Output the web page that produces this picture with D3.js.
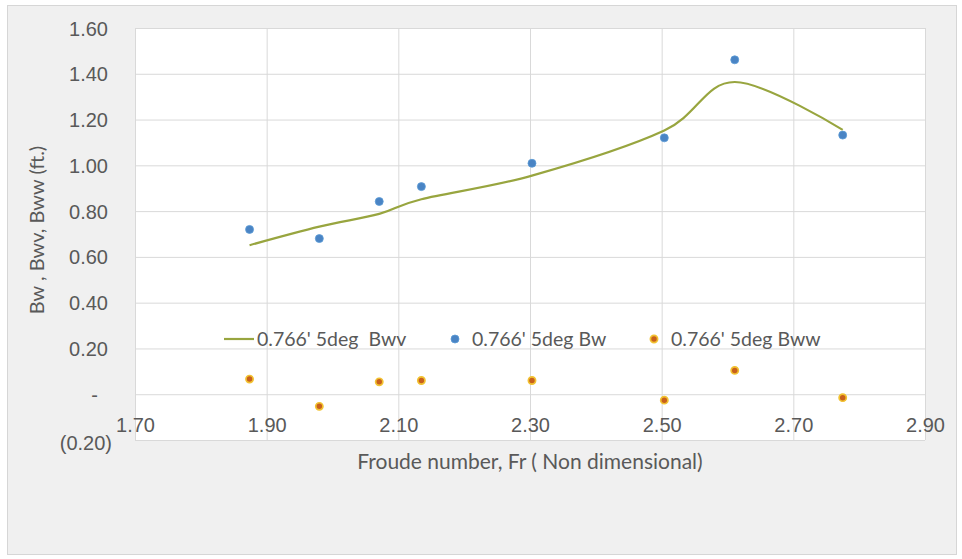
<!DOCTYPE html>
<html>
<head>
<meta charset="utf-8">
<script src="https://cdn.jsdelivr.net/npm/d3@7"></script>
<style>
  html, body { margin: 0; padding: 0; background: #ffffff; }
  svg { display: block; font-family: Lato, "Open Sans", sans-serif; }
  .legend text { white-space: pre; }
</style>
</head>
<body>
<svg id="chart" width="962" height="559"></svg>
<script>
// Froude number for each run
const froude = [1.874, 1.980, 2.071, 2.135, 2.303, 2.504, 2.611, 2.775];
// Bw measured (ft.)
const bw  = [0.720, 0.680, 0.842, 0.907, 1.009, 1.120, 1.461, 1.132];
// Bwv smoothed (ft.)
const bwv = [0.651, 0.732, 0.788, 0.852, 0.955, 1.152, 1.364, 1.155];
// Bww (ft.)
const bww = [0.066, -0.053, 0.054, 0.060, 0.060, -0.026, 0.104, -0.015];

const xTicks = [1.7, 1.9, 2.1, 2.3, 2.5, 2.7, 2.9];
const yTicks = [-0.2, 0, 0.2, 0.4, 0.6, 0.8, 1.0, 1.2, 1.4, 1.6];

const legendItems = ["0.766' 5deg  Bwv", "0.766' 5deg Bw", "0.766' 5deg Bww"];
const xTitle = "Froude number, Fr ( Non dimensional)";
const yTitle = "Bw , Bwv, Bww (ft.)";

const svg = d3.select("#chart");
const textColor = "#595959";
const gridColor = "#d9d9d9";
const lineColor = "#98a53f";
const blue = "#4a84c4";
const orangeFill = "#c8601c";
const orangeRing = "#f2c230";

const plot = { left: 135, right: 925, top: 28, bottom: 440 };

// Chart panel
svg.append("rect")
  .attr("x", 7.5).attr("y", 5.5).attr("width", 949).attr("height", 549)
  .attr("fill", "#f0f0f0").attr("stroke", "#d6d6d6");

// Plot area
svg.append("rect")
  .attr("x", plot.left).attr("y", plot.top)
  .attr("width", plot.right - plot.left).attr("height", plot.bottom - plot.top)
  .attr("fill", "#ffffff");

const x = d3.scaleLinear().domain([1.7, 2.9]).range([plot.left, plot.right]);
const y = d3.scaleLinear().domain([-0.2, 1.6]).range([plot.bottom, plot.top]);

// Gridlines
const gx = svg.append("g")
  .attr("transform", `translate(0,${plot.bottom})`)
  .call(d3.axisBottom(x).tickValues(xTicks).tickSize(-(plot.bottom - plot.top)).tickFormat(""));
gx.select(".domain").remove();
gx.selectAll("line").attr("stroke", gridColor).attr("stroke-width", 1);

const gy = svg.append("g")
  .attr("transform", `translate(${plot.left},0)`)
  .call(d3.axisLeft(y).tickValues(yTicks).tickSize(-(plot.right - plot.left)).tickFormat(""));
gy.select(".domain").remove();
gy.selectAll("line").attr("stroke", gridColor).attr("stroke-width", 1);

// Accounting-style number format: "-" for zero, parentheses for negatives
const fmt = v => {
  if (Math.abs(v) < 1e-9) return "-";
  if (v < 0) return "(" + d3.format(".2f")(-v) + ")";
  return d3.format(".2f")(v);
};

// Y tick labels
const yAxis = svg.append("g")
  .attr("transform", `translate(108,0)`)
  .call(d3.axisLeft(y).tickValues(yTicks).tickSize(0).tickPadding(0).tickFormat(fmt));
yAxis.select(".domain").remove();
yAxis.selectAll("text")
  .attr("fill", textColor).style("font-size", "20px")
  .attr("font-family", null)
  .attr("x", d => d < 0 ? 4 : (Math.abs(d) < 1e-9 ? -10 : 0))
  .attr("y", d => d < 0 ? 2 : 0)
  .attr("dy", "0.35em");

// X tick labels, drawn just above the bottom of the plot area
const xAxis = svg.append("g")
  .attr("transform", `translate(0,${plot.bottom})`)
  .call(d3.axisBottom(x).tickValues(xTicks).tickSize(0).tickFormat(d3.format(".2f")));
xAxis.select(".domain").remove();
xAxis.selectAll("text")
  .attr("fill", textColor).style("font-size", "20px")
  .attr("font-family", null)
  .attr("y", -15).attr("dy", "0.35em");

// Axis titles
svg.append("text")
  .attr("x", 530).attr("y", 462).attr("dy", "0.35em")
  .attr("text-anchor", "middle").attr("fill", textColor).style("font-size", "21px")
  .text(xTitle);

svg.append("text")
  .attr("transform", `translate(37,230) rotate(-90)`)
  .attr("dy", "0.35em")
  .attr("text-anchor", "middle").attr("fill", textColor).style("font-size", "20px")
  .text(yTitle);

// Smoothed Bwv line
const pts = froude.map((f, i) => [x(f), y(bwv[i])]);
svg.append("path")
  .attr("d", d3.line().curve(d3.curveCardinal.tension(0))(pts))
  .attr("fill", "none").attr("stroke", lineColor).attr("stroke-width", 2.2);

// Bw markers
svg.append("g").selectAll("circle").data(froude).join("circle")
  .attr("cx", d => x(d)).attr("cy", (d, i) => y(bw[i])).attr("r", 4)
  .attr("fill", blue).attr("stroke", "#5b9bd5").attr("stroke-width", 0.8);

// Bww markers
svg.append("g").selectAll("circle").data(froude).join("circle")
  .attr("cx", d => x(d)).attr("cy", (d, i) => y(bww[i])).attr("r", 3.6)
  .attr("fill", orangeFill).attr("stroke", orangeRing).attr("stroke-width", 1.7);

// Legend
const legY = 339;
const leg = svg.append("g").attr("class", "legend").style("font-size", "19.5px").attr("fill", textColor);
leg.append("line").attr("x1", 224).attr("x2", 254).attr("y1", legY).attr("y2", legY)
  .attr("stroke", lineColor).attr("stroke-width", 2.2);
leg.append("text").attr("x", 257).attr("y", legY).attr("dy", "0.35em").text(legendItems[0]);
leg.append("circle").attr("cx", 455).attr("cy", legY).attr("r", 4)
  .attr("fill", blue).attr("stroke", "#5b9bd5").attr("stroke-width", 0.8);
leg.append("text").attr("x", 472).attr("y", legY).attr("dy", "0.35em").text(legendItems[1]);
leg.append("circle").attr("cx", 654).attr("cy", legY).attr("r", 3.6)
  .attr("fill", orangeFill).attr("stroke", orangeRing).attr("stroke-width", 1.7);
leg.append("text").attr("x", 671).attr("y", legY).attr("dy", "0.35em").text(legendItems[2]);
</script>
</body>
</html>
